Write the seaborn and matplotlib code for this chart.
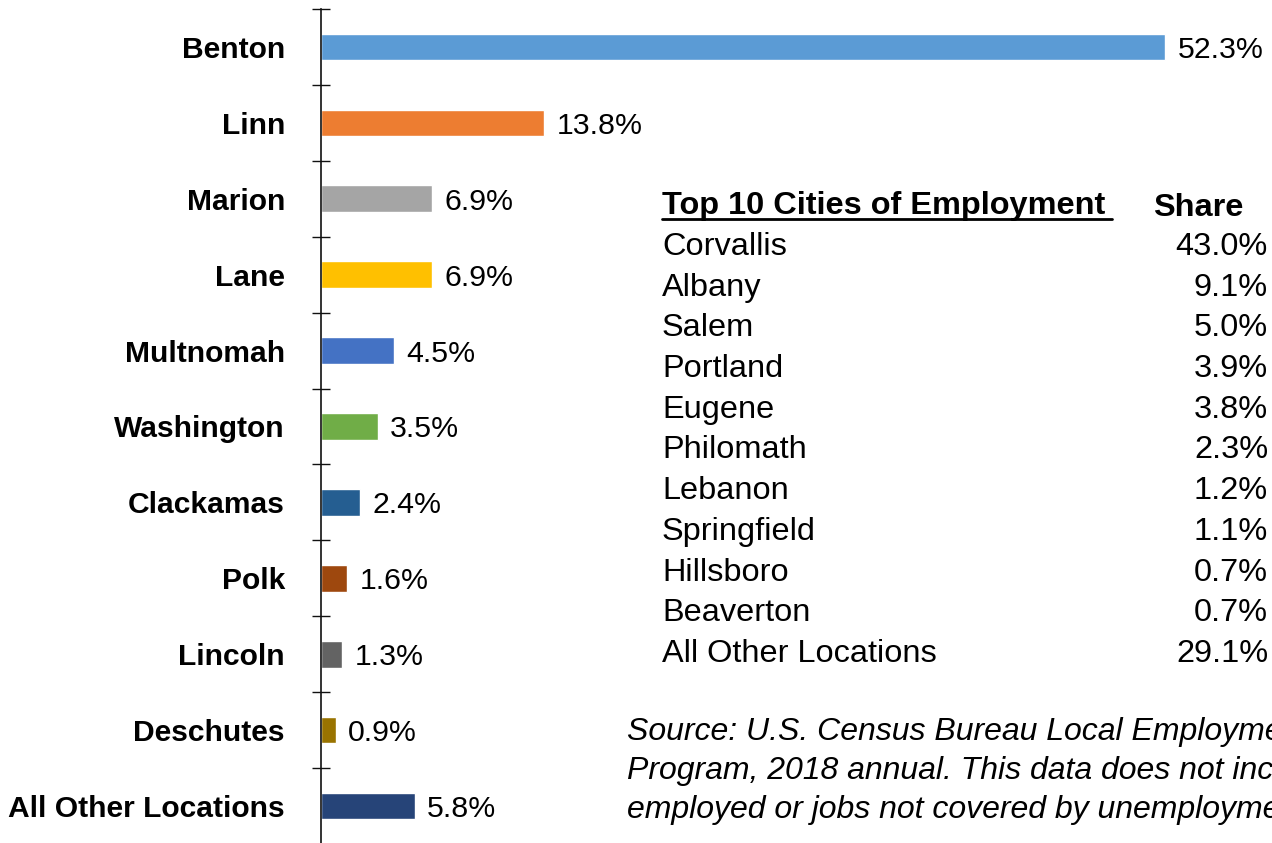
import matplotlib
matplotlib.use("Agg")
import matplotlib.pyplot as plt
import seaborn as sns
import pandas as pd
from matplotlib.ticker import FixedLocator

counties = ["Benton", "Linn", "Marion", "Lane", "Multnomah", "Washington",
            "Clackamas", "Polk", "Lincoln", "Deschutes", "All Other Locations"]
county_share = [52.3, 13.8, 6.9, 6.9, 4.5, 3.5, 2.4, 1.6, 1.3, 0.9, 5.8]
bar_colors = ["#5B9BD5", "#ED7D31", "#A5A5A5", "#FFC000", "#4472C4", "#70AD47",
              "#255E91", "#9E480E", "#636363", "#997300", "#264478"]

cities = ["Corvallis", "Albany", "Salem", "Portland", "Eugene", "Philomath",
          "Lebanon", "Springfield", "Hillsboro", "Beaverton", "All Other Locations"]
city_share = [43.0, 9.1, 5.0, 3.9, 3.8, 2.3, 1.2, 1.1, 0.7, 0.7, 29.1]

source_note = ("Source: U.S. Census Bureau Local Employment Dynamics\n"
               "Program, 2018 annual. This data does not include self-\n"
               "employed or jobs not covered by unemployment insurance.")

df = pd.DataFrame({"county": counties, "share": county_share})

sns.set_style("white")
plt.rcParams["font.family"] = ["Liberation Sans", "DejaVu Sans"]
plt.rcParams["text.color"] = "black"
plt.rcParams["ytick.color"] = "black"
plt.rcParams["ytick.labelcolor"] = "black"

W, H = 1272, 843
fig = plt.figure(figsize=(W / 100, H / 100), dpi=100)
ax = fig.add_axes([321 / W, -1 / H, (W - 321) / W, 835 / H])

sns.barplot(data=df, y="county", x="share", hue="county", palette=bar_colors,
            order=counties, hue_order=counties, width=0.35, legend=False,
            saturation=1, ax=ax)

for cont in ax.containers:
    labs = ax.bar_label(cont, fmt="%.1f%%", padding=9, fontsize=21.8, color="black")
    for t in labs:
        t.set_va("center_baseline")

ax.set_xlim(0, 58.9)
ax.set_ylim(len(counties) - 0.5, -0.5)
ax.set_xlabel("")
ax.set_ylabel("")
ax.set_xticks([])
for s in ["top", "right", "bottom"]:
    ax.spines[s].set_visible(False)
ax.spines["left"].set_color("#111111")
ax.spines["left"].set_linewidth(1.2)

ax.yaxis.set_minor_locator(FixedLocator([i - 0.5 for i in range(len(counties) + 1)]))
ax.tick_params(axis="y", which="minor", direction="inout", length=13, width=1, color="#111111", left=True)
ax.tick_params(axis="y", which="major", length=0, pad=26)
for lab in ax.get_yticklabels():
    lab.set_fontweight("bold")
    lab.set_fontsize(21.6)
    lab.set_va("center_baseline")

# table of top cities
fs_tab = 23.4
fig.text(662 / W, 1 - 206 / H, "Top 10 Cities of Employment", fontsize=fs_tab,
         fontweight="bold", va="center", ha="left")
fig.text(1153 / W, 1 - 208 / H, "Share", fontsize=fs_tab, fontweight="bold",
         va="center", ha="left")
fig.add_artist(plt.Line2D([662 / W, 1112 / W], [1 - 219 / H, 1 - 219 / H],
                          color="black", linewidth=2, transform=fig.transFigure))
for i, (c, v) in enumerate(zip(cities, city_share)):
    y = 1 - (247 + i * 40.7) / H
    fig.text(662 / W, y, c, fontsize=fs_tab, va="center", ha="left")
    fig.text(1268 / W, y, f"{v:.1f}%", fontsize=fs_tab, va="center", ha="right")

# source note runs past the right edge, as in the original slide
fig.text(627 / W, 1 - 771 / H, source_note, fontsize=23, style="italic",
         va="center", ha="left", linespacing=1.38)

fig.savefig("out.png", dpi=100)
